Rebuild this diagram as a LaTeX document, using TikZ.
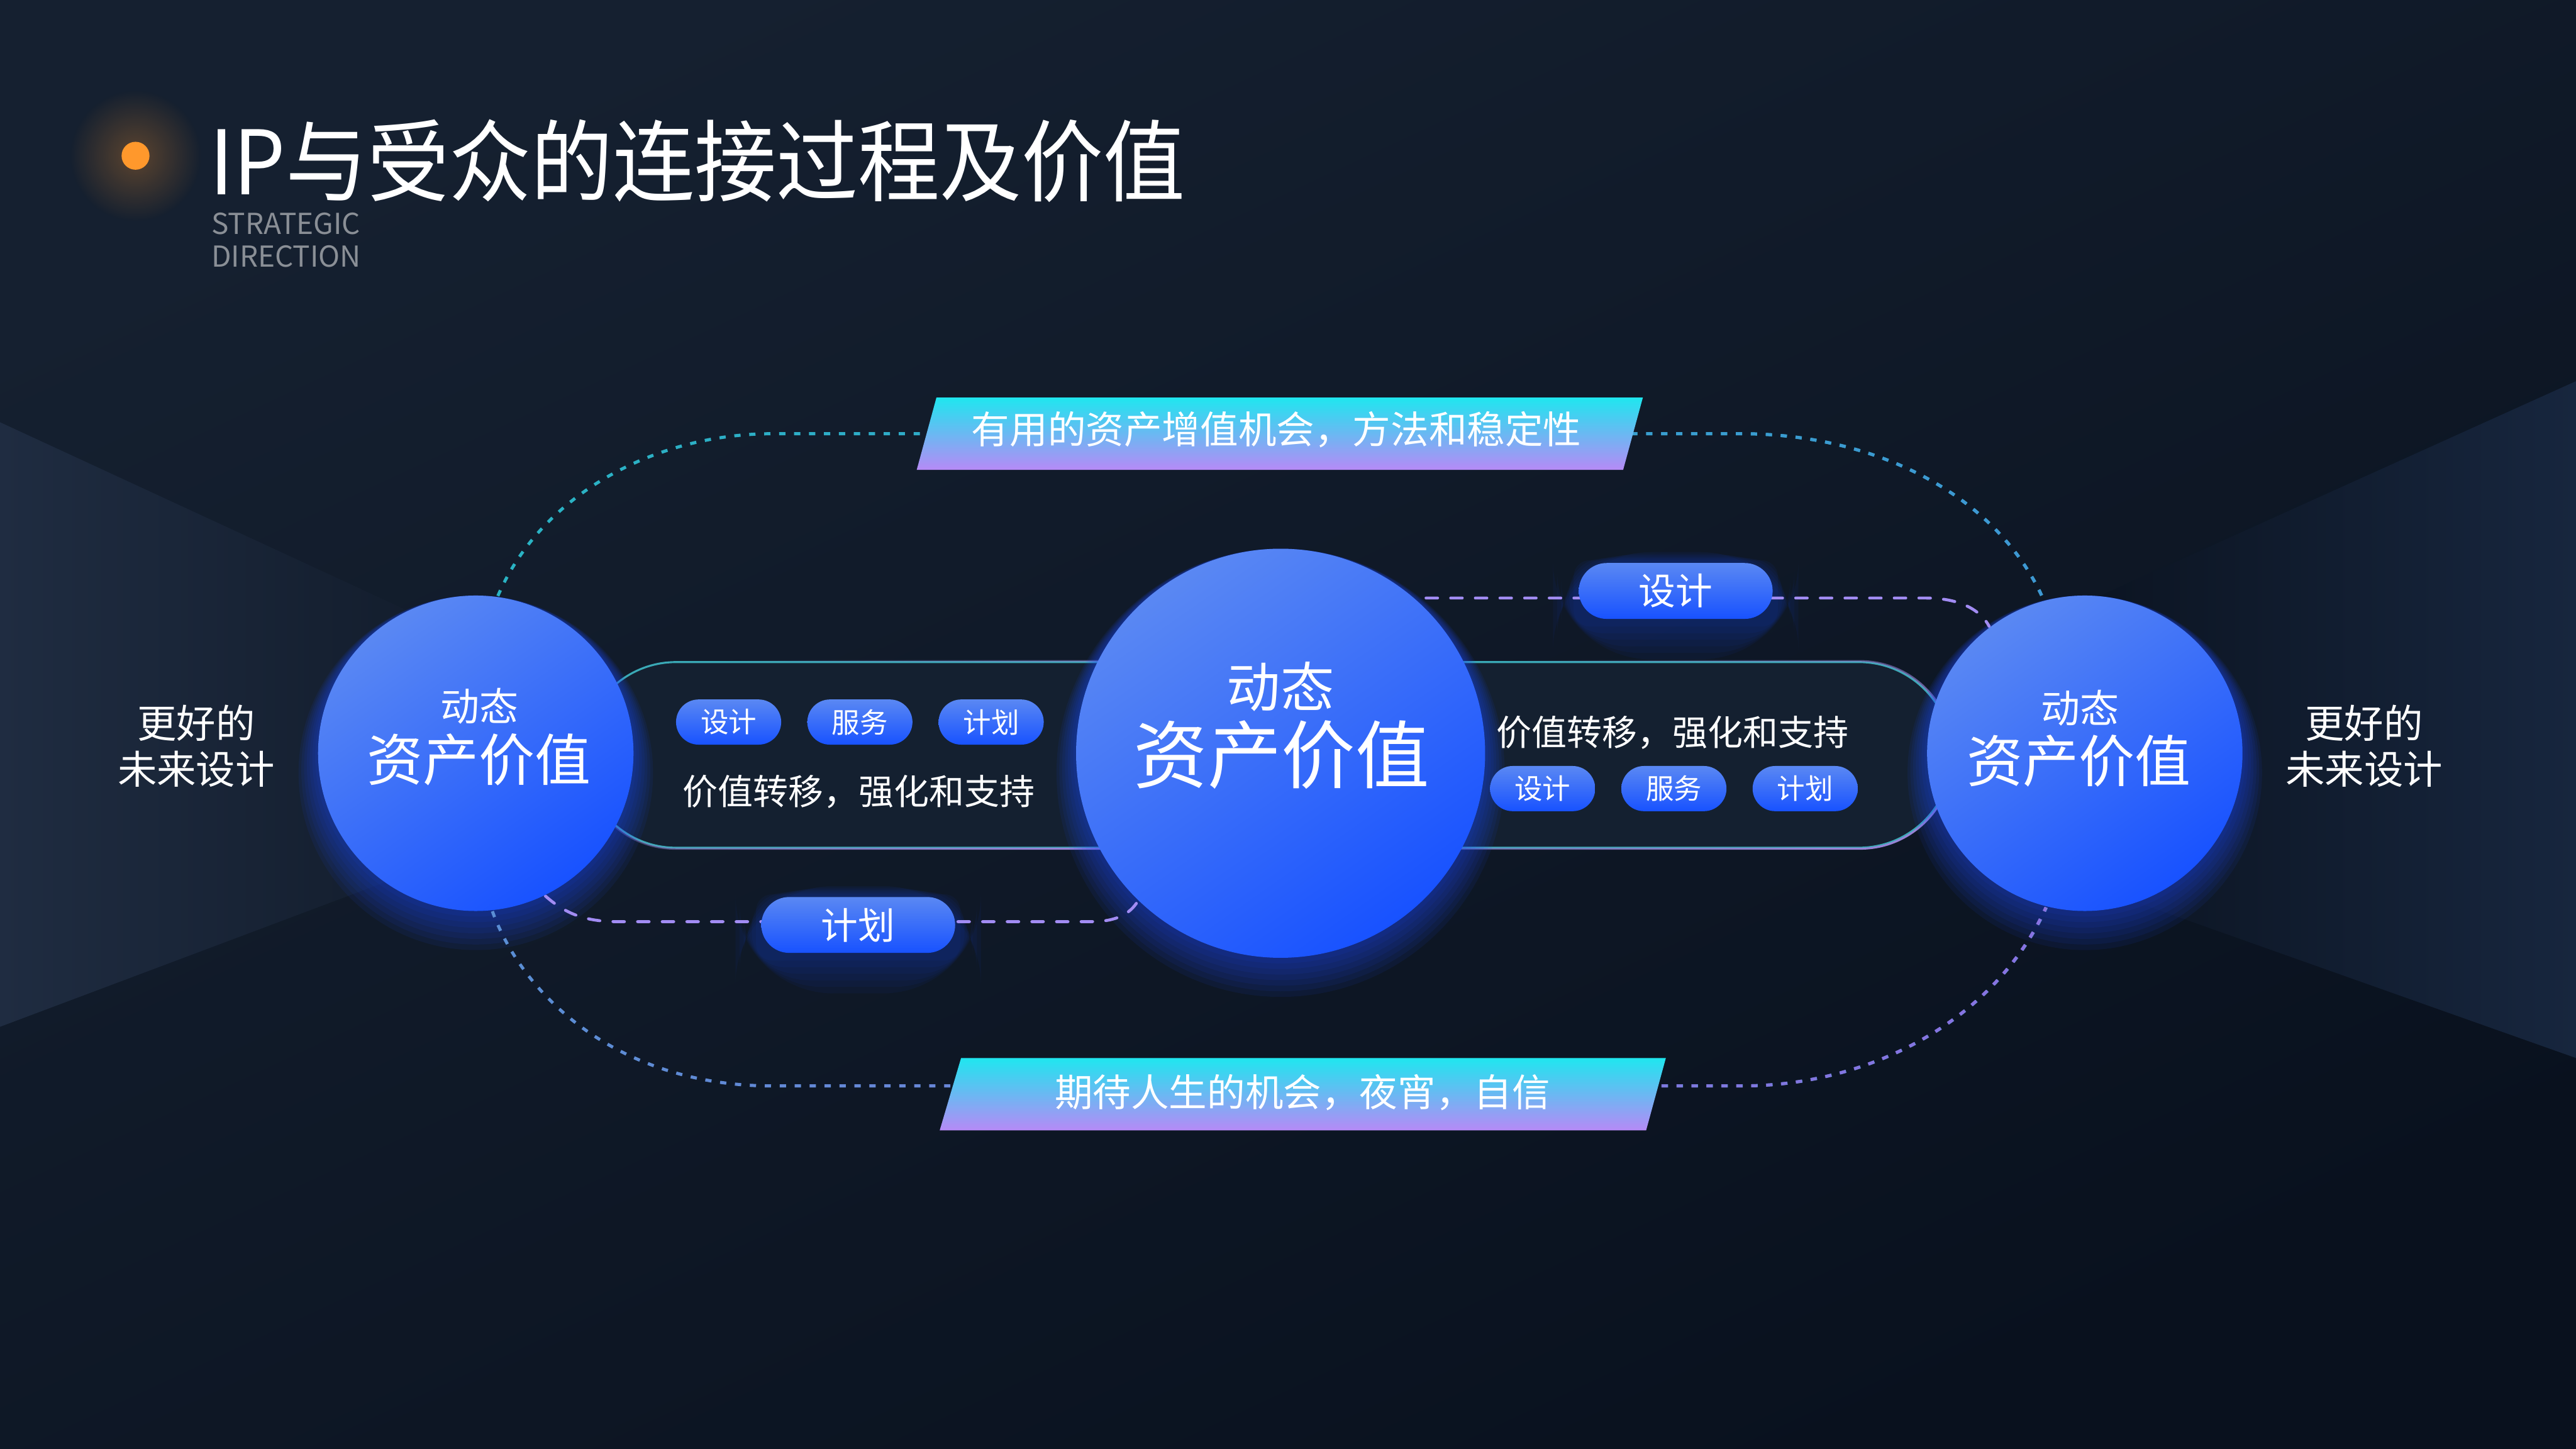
\documentclass[tikz,border=0pt]{standalone}
\usepackage{fontspec}
\setmainfont{Noto Sans CJK SC}
\usetikzlibrary{positioning, shapes.misc, calc, fadings}

\definecolor{bgtop}{HTML}{152030}
\definecolor{bgbot}{HTML}{09111E}
\definecolor{beamleft}{HTML}{1F2C41}
\definecolor{beamright}{HTML}{17263E}
\definecolor{ballhi}{HTML}{5A88F3}
\definecolor{balllo}{HTML}{1852FF}
\definecolor{glowblue}{HTML}{1F4DFF}
\definecolor{labhi}{HTML}{1FE6EF}
\definecolor{lablo}{HTML}{B68AF6}
\definecolor{dotteal}{HTML}{2AB4C4}
\definecolor{dotblue}{HTML}{3F97D4}
\definecolor{dotsteel}{HTML}{5A8FD4}
\definecolor{dotviolet}{HTML}{8A72E2}
\definecolor{dashviolet}{HTML}{A28CF3}
\definecolor{edgeteal}{HTML}{3AA9B6}
\definecolor{edgeviolet}{HTML}{9683D6}
\definecolor{boxfill}{HTML}{142030}
\definecolor{subgray}{HTML}{8A8F96}
\definecolor{dotorange}{HTML}{FF982C}

\tikzfading[name=fadeleft, left color=transparent!100, right color=transparent!0]
\tikzfading[name=glowfade, inner color=transparent!0, outer color=transparent!100]

\pgfdeclarelayer{backdrop}
\pgfdeclarelayer{under}
\pgfsetlayers{backdrop,under,main}

\begin{document}
\begin{tikzpicture}[
        x=0.1mm, y=-0.1mm,
        ball/.style={circle, inner sep=0pt, top color=ballhi, bottom color=balllo, shading angle=35},
        balltext/.style={text=white, inner sep=0pt, font={\fontsize{#1}{#1}\selectfont}},
        valuebox/.style={rounded rectangle, inner sep=0pt, minimum height=11.3mm, fill=boxfill, draw=edgeteal, line width=0.12mm},
        boxedge/.style={line width=0.12mm, rounded corners=5.65mm},
        tagbox/.style={rounded rectangle, inner sep=0pt, minimum width=6.4mm, minimum height=2.75mm, top color=ballhi, bottom color=balllo, text=white, font={\fontsize{4.85}{4.85}\selectfont}},
        floattag/.style={tagbox, minimum width=11.8mm, minimum height=3.4mm, font={\fontsize{6.4}{6.4}\selectfont}},
        boxtext/.style={text=white, inner sep=0pt, font={\fontsize{6.1}{6.1}\selectfont}},
        labeltext/.style={text=white, inner sep=0pt, font={\fontsize{6.6}{6.6}\selectfont}},
        sidetext/.style={text=white, inner sep=0pt, align=center, font={\fontsize{6.8}{7.97}\selectfont}},
        titletext/.style={text=white, inner sep=0pt, font={\fontsize{15.4}{15.4}\selectfont}},
        subtext/.style={text=subgray, inner sep=0pt, align=left, font={\fontsize{5}{5.7}\selectfont}},
        dotline/.style={line width=0.19mm, dash pattern=on 0.38mm off 0.53mm},
        dashline/.style={line width=0.18mm, dash pattern=on 0.7mm off 0.8mm, line cap=round, draw=dashviolet}
    ]
    \useasboundingbox (0,0) rectangle (1568,882);

    % background
    \begin{pgfonlayer}{backdrop}
        \shade[top color=bgtop, bottom color=bgbot, shading angle=25] (0,0) rectangle (1568,882);
        \shade[left color=beamleft, right color=bgtop!70!bgbot] (0,257) -- (290,391) -- (290,516) -- (0,625) -- cycle;
        \shade[right color=beamright, left color=bgbot!80!bgtop] (1269,367) -- (1568,232) -- (1568,644) -- (1269,538) -- cycle;
        \fill[dotorange, opacity=0.3, path fading=glowfade] (82.5,94.8) circle [radius=4mm];
    \end{pgfonlayer}

    % title
    \node[circle, fill=dotorange, minimum size=1.7mm, inner sep=0pt] (dot) at (82.5,94.8) {};
    \node[titletext, anchor=west] (title) at (127,98) {\scalebox{0.92}[1]{IP与受众的连接过程及价值}};
    \node[subtext, anchor=west] (subtitle) at (128,146) {STRATEGIC\\DIRECTION};

    % nodes
    \node[ball, minimum size=19.2mm] (ballL) at (289.6,458.5) {};
    \node[ball, minimum size=24.9mm] (ballC) at (779.5,458.5) {};
    \node[ball, minimum size=19.2mm] (ballR) at (1269,458.5) {};
    \node[balltext=6.75] (dynL) at (291.8,430) {动态};
    \node[balltext=9.7] (valL) at (291.4,462.5) {资产价值};
    \node[balltext=9.3] (dynC) at (779.5,418) {动态};
    \node[balltext=12.8] (valC) at (780,459.5) {资产价值};
    \node[balltext=6.75] (dynR) at (1266,431) {动态};
    \node[balltext=9.7] (valR) at (1265.5,463) {资产价值};

    \node[sidetext] (futL) at (119.4,454) {更好的\\未来设计};
    \node[sidetext] (futR) at (1439,454) {更好的\\未来设计};

    \begin{pgfonlayer}{under}
        \node[valuebox, minimum width=37mm] (boxL) at (540,459.5) {};
        \node[valuebox, minimum width=35.5mm] (boxR) at (1010.5,459.5) {};
        \draw[boxedge, edgeviolet, path fading=fadeleft, fading angle=-35] (boxL.west |- boxL.north) rectangle (boxL.east |- boxL.south);
        \draw[boxedge, edgeviolet, path fading=fadeleft, fading angle=-35] (boxR.west |- boxR.north) rectangle (boxR.east |- boxR.south);
    \end{pgfonlayer}

    \node[tagbox] (tagL1) at (443.5,439.5) {设计};
    \node[tagbox, right=1.45mm of tagL1] (tagL2) {服务};
    \node[tagbox, right=1.45mm of tagL2] (tagL3) {计划};
    \node[boxtext] (txtL) at (522.6,482) {价值转移，强化和支持};

    \node[boxtext] (txtR) at (1018,446) {价值转移，强化和支持};
    \node[tagbox] (tagR1) at (939,480) {设计};
    \node[tagbox, right=1.45mm of tagR1] (tagR2) {服务};
    \node[tagbox, right=1.45mm of tagR2] (tagR3) {计划};

    \node[floattag] (tagTop) at (1020,359.7) {设计};
    \node[floattag] (tagBot) at (522.4,563) {计划};

    % labels on the outer ring
    \shade[top color=labhi, bottom color=lablo] (570,242) -- (1000,242) -- (988,286) -- (558,286) -- cycle;
    \node[labeltext] (labTop) at (777,261.5) {有用的资产增值机会，方法和稳定性};
    \shade[top color=labhi, bottom color=lablo] (585,644) -- (1014,644) -- (1002,688) -- (572,688) -- cycle;
    \node[labeltext] (labBot) at (792.8,665) {期待人生的机会，夜宵，自信};

    % glow and edges
    \begin{pgfonlayer}{under}
        \foreach \b/\r in {ballL/9.6, ballC/12.45, ballR/9.6}
            \foreach \k in {1,...,7}
                \fill[glowblue, opacity=0.08] ([yshift=-\k*0.17mm]\b.center) circle [radius=\r mm+\k*0.17mm];
        \foreach \t in {tagTop, tagBot}
            \foreach \k [evaluate=\k as \rc using 1.7+0.25*\k] in {1,...,6}
                \fill[glowblue, opacity=0.05, rounded corners=\rc mm]
                    ($(\t.west |- \t.south)+(-2.5*\k,4*\k)$) rectangle ($(\t.east |- \t.north)+(2.5*\k,-1*\k)$);

        \draw[dotline, dotteal] (ballL.82) .. controls (330,300) and (400,264) .. (470,264) -- (1060,264) .. controls (1140,264) and (1215,300) .. (ballR.105);
        \draw[dotline, dotblue, path fading=fadeleft] (ballL.82) .. controls (330,300) and (400,264) .. (470,264) -- (1060,264) .. controls (1140,264) and (1215,300) .. (ballR.105);
        \draw[dotline, dotsteel] (ballL.-84) .. controls (320,610) and (380,661) .. (470,661) -- (1060,661) .. controls (1140,661) and (1215,620) .. (ballR.-104);
        \draw[dotline, dotviolet, path fading=fadeleft] (ballL.-84) .. controls (320,610) and (380,661) .. (470,661) -- (1060,661) .. controls (1140,661) and (1215,620) .. (ballR.-104);

        \draw[dashline] (ballC.45 |- 0,364) -- (1172,364) .. controls (1194,364) and (1206,372) .. (ballR.127);
        \draw[dashline] (ballL.-64) .. controls (344,556) and (356,561) .. (376,561) -- (664,561) .. controls (680,561) and (688,556) .. (ballC.-134);
    \end{pgfonlayer}
\end{tikzpicture}
\end{document}
